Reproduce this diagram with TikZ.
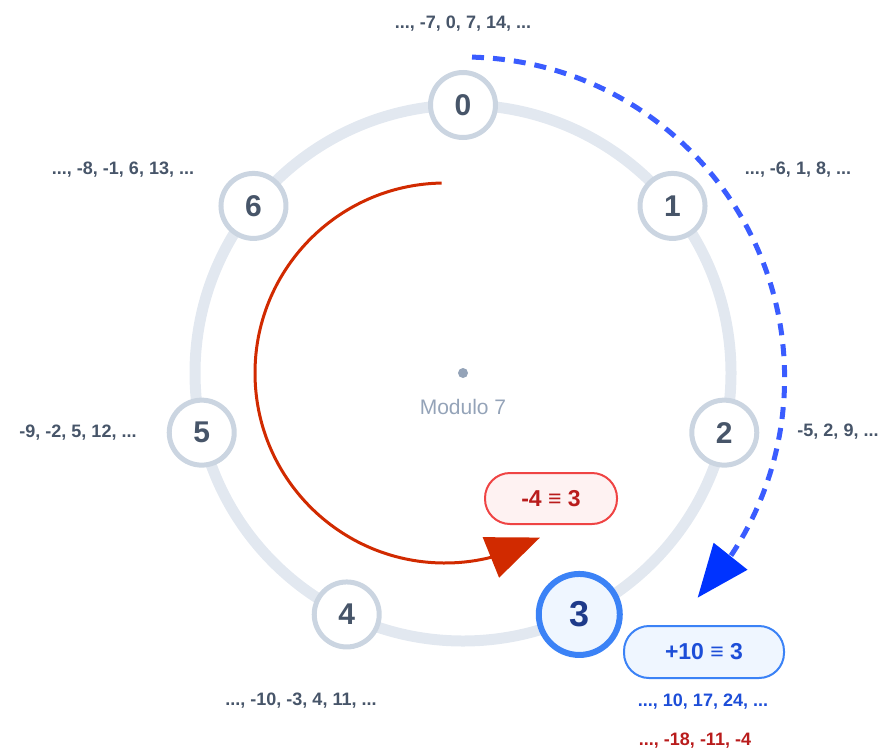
\documentclass[tikz,border=0pt]{standalone}
\usepackage{fontspec}
\setmainfont{Liberation Sans}
\usetikzlibrary{arrows.meta,bending,calc}
\definecolor{ringc}{HTML}{E2E8F0}
\definecolor{nodeborder}{HTML}{CBD5E1}
\definecolor{slate}{HTML}{475569}
\definecolor{muted}{HTML}{94A3B8}
\definecolor{bluebord}{HTML}{3B82F6}
\definecolor{bluefill}{HTML}{EFF6FF}
\definecolor{bluetext}{HTML}{1E3A8A}
\definecolor{bluelabel}{HTML}{1D4ED8}
\definecolor{redbord}{HTML}{EF4444}
\definecolor{redfill}{HTML}{FEF2F2}
\definecolor{redtext}{HTML}{B91C1C}
\definecolor{redarc}{HTML}{D12A00}
\definecolor{bluearc}{HTML}{3A5CFF}
\definecolor{bluehead}{HTML}{0033FF}
\begin{document}
\begin{tikzpicture}[x=1pt,y=1pt,
  residue/.style={circle, draw=nodeborder, line width=5pt, fill=white, minimum size=65pt, inner sep=0pt, font=\fontsize{30}{30}\selectfont\bfseries, text=slate},
  target/.style={circle, draw=bluebord, line width=6pt, fill=bluefill, minimum size=81pt, inner sep=0pt, font=\fontsize{36}{36}\selectfont\bfseries, text=bluetext},
  seq/.style={anchor=base, font=\fontsize{18}{18}\selectfont\bfseries, text=slate, inner sep=0pt},
  pill/.style={rounded corners=25pt, line width=2pt, inner sep=0pt, font=\fontsize{23}{23}\selectfont\bfseries},
  ring/.style={draw=ringc, line width=11pt}
]
\useasboundingbox (0,0) rectangle (888,-750);
\coordinate (c) at (463,-373);
\coordinate (rc) at (445,-373);
\coordinate (bc) at (463.6,-378);

% ring
\draw[ring] (c) circle[radius=268];

% residue nodes
\node[residue] (n0) at ($(c)+(90:268)$) {0};
\node[residue] (n1) at ($(c)+(38.571:268)$) {1};
\node[residue] (n2) at ($(c)+(-12.857:268)$) {2};
\node[target]  (n3) at ($(c)+(-64.286:268)$) {3};
\node[residue] (n4) at ($(c)+(-115.714:268)$) {4};
\node[residue] (n5) at ($(c)+(-167.143:268)$) {5};
\node[residue] (n6) at ($(c)+(141.429:268)$) {6};

% centre
\node[circle, fill=muted, minimum size=10pt, inner sep=0pt] (dot) at (c) {};
\node[font=\fontsize{21}{21}\selectfont, text=muted, inner sep=0pt] (mod) at (463,-407) {Modulo 7};

% residue classes
\node[seq] (l0) at (463,-28) {..., -7, 0, 7, 14, ...};
\node[seq] (l1) at (798,-174) {..., -6, 1, 8, ...};
\node[seq] (l2) at (838,-436) {-5, 2, 9, ...};
\node[seq] (l4) at (301,-705) {..., -10, -3, 4, 11, ...};
\node[seq] (l5) at (78,-437) {-9, -2, 5, 12, ...};
\node[seq] (l6) at (123,-174) {..., -8, -1, 6, 13, ...};
\node[seq, text=bluelabel] (lb) at (703,-706) {..., 10, 17, 24, ...};
\node[seq, text=redtext] (lr) at (695,-745) {..., -18, -11, -4};

% red arc (-4)
\draw[redarc, line width=3pt, -{Triangle[length=53pt,width=43pt]}]
  (rc) ++(91:190) arc[start angle=91, end angle=300, radius=190];

% blue dashed arc (+10)
\draw[bluearc, line width=5pt, dash pattern=on 12pt off 9pt,
      -{Triangle[length=53pt,width=42pt,color=bluehead,fill=bluehead]}]
  (bc) ++(88.5:321) arc[start angle=88.5, end angle=-43.2, radius=321];

% result pills
\node[pill, draw=redbord, fill=redfill, text=redtext, minimum width=132pt, minimum height=51pt] (rp) at (551,-498.5) {-4 ≡ 3};
\node[pill, draw=bluebord, fill=bluefill, text=bluelabel, minimum width=160pt, minimum height=52pt] (bp) at (704,-652) {+10 ≡ 3};
\end{tikzpicture}
\end{document}
